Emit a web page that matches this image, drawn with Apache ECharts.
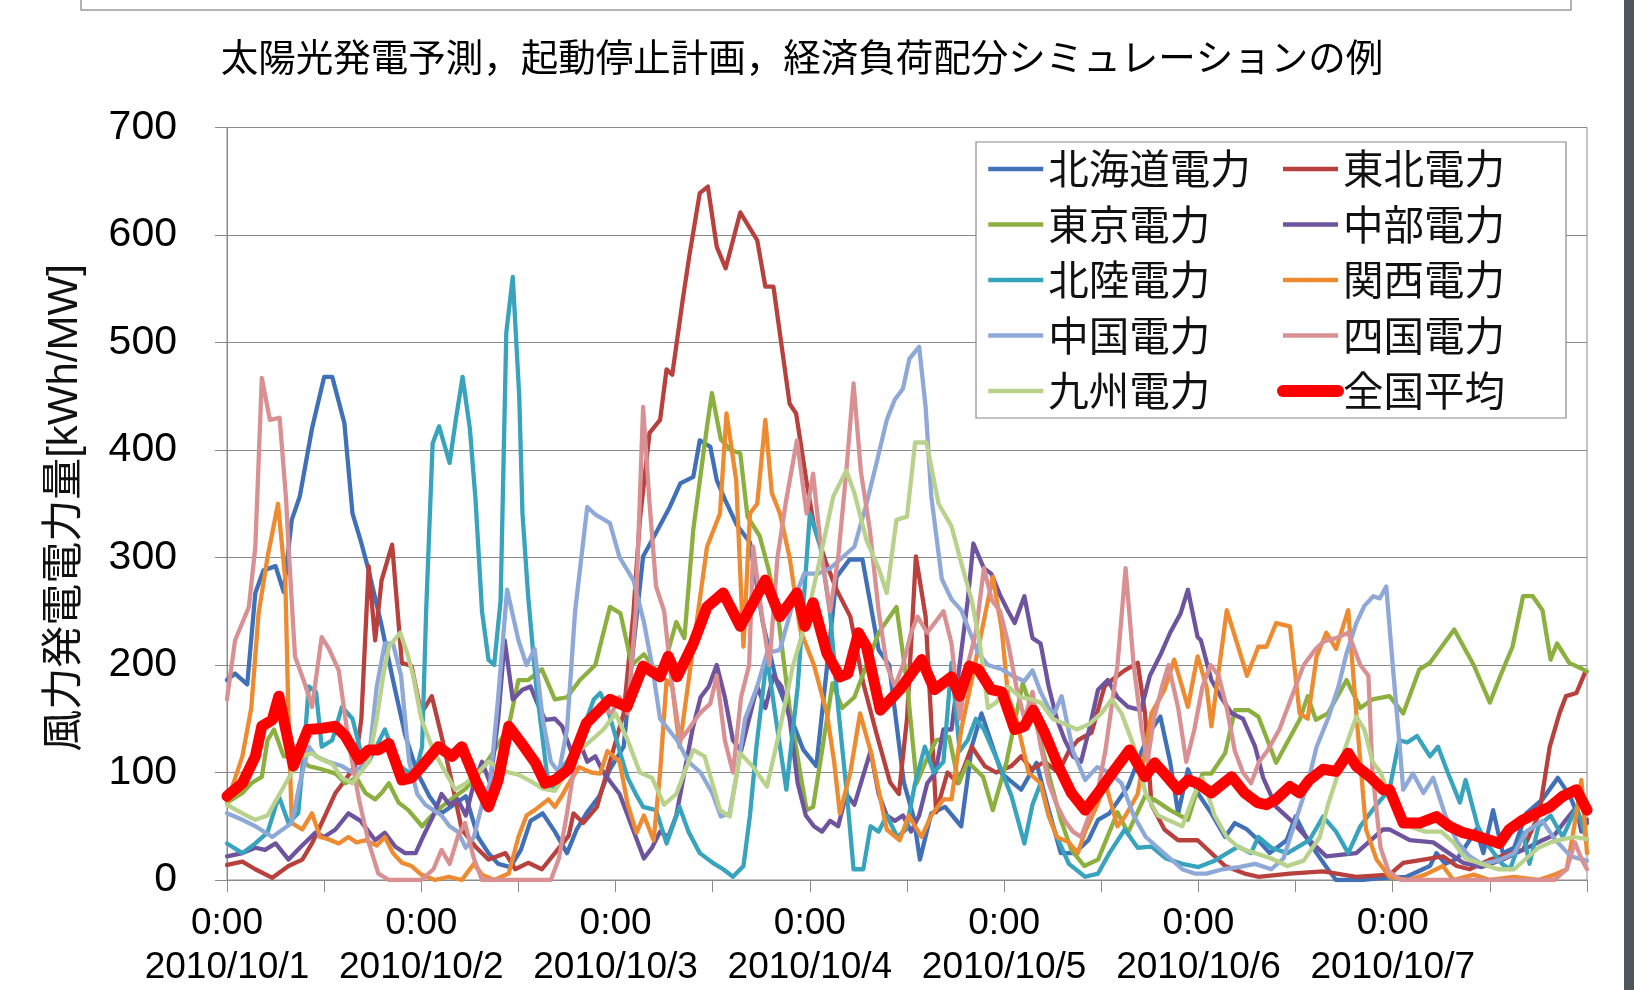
<!DOCTYPE html>
<html><head><meta charset="utf-8">
<script src="https://cdn.jsdelivr.net/npm/echarts@6/dist/echarts.min.js"></script>
<style>html,body{margin:0;padding:0;background:#fff;}#c{width:1634px;height:990px;}</style>
</head><body><div id="c"></div>
<script>
const titleText = '太陽光発電予測，起動停止計画，経済負荷配分シミュレーションの例';
const yName = '風力発電電力量[kWh/MW]';
const names = ['北海道電力','東北電力','東京電力','中部電力','北陸電力','関西電力','中国電力','四国電力','九州電力','全国平均'];
const colors = ['#4070B8','#B8413E','#8BB040','#6E549E','#38A3BC','#EE8A30','#8EA8D8','#D99092','#B8D28C','#FF0000'];
const dayLabels = ['2010/10/1','2010/10/2','2010/10/3','2010/10/4','2010/10/5','2010/10/6','2010/10/7'];
const yTicks = [0,100,200,300,400,500,600,700];

// [hour since 2010/10/1 0:00, kWh/MW]
const hokkaido = [[0,186],[1,192],[2.5,182],[3.5,267],[4.5,288],[6,292],[7,268],[8,335],[9,357],[10.5,420],[12,468],[13,468],[14.5,425],[15.5,341],[16.5,316],[17.5,288],[19,240],[20.5,186],[22,135],[23.5,100],[25,78],[26.5,62],[28,70],[29.5,78],[31,40],[32.3,25],[33.5,15],[35,12],[36.3,28],[37.5,55],[39,62],[40.5,45],[42,25],[43.2,47],[44.4,62],[46,78],[47.3,103],[49,124],[50.2,217],[51.4,301],[53,323],[54.7,347],[56,369],[57.6,375],[58.4,409],[59.7,403],[60.5,372],[61.5,354],[63,330],[64.6,314],[66.2,239],[67.9,184],[69.6,152],[71.2,121],[72.8,106],[74,190],[75.3,282],[76.9,298],[78.5,298],[80.5,214],[81.8,200],[83.6,91],[84.8,59],[85.6,19],[87,62],[88.7,68],[90.7,50],[92,124],[93.2,155],[95.7,99],[98.1,84],[100,109],[101.4,68],[103,25],[104.7,25],[106.4,37],[107.6,56],[109,62],[111.3,87],[113,120],[114.2,140],[115.3,152],[116.5,110],[117.5,62],[118.7,103],[120,80],[121.6,62],[123.3,40],[124.5,53],[126,47],[127.4,37],[128.8,25],[130.9,37],[132,59],[133.3,40],[134.6,25],[136,10],[137,0],[140,0],[143,2],[145.7,3],[148.6,13],[149.4,25],[150.5,15],[152,20],[153.5,37],[154.3,47],[155.2,25],[156.4,65],[157.6,25],[159,30],[160.5,62],[162.5,75],[164.4,95],[165.9,78],[167.1,56],[168,53]];
const tohoku = [[0,14],[1.9,17],[3.5,10],[5.6,2],[7.6,13],[9.3,19],[10.5,34],[11.7,53],[13.4,81],[14.6,93],[15.8,106],[16.6,150],[17.5,292],[18.3,223],[19.1,279],[20.4,312],[21.6,202],[22.8,199],[24,155],[25.3,171],[26.5,134],[27.8,90],[29,47],[30.7,31],[32.3,19],[34.4,25],[35.6,10],[37.2,16],[38.9,10],[40.5,25],[42.2,41],[42.8,62],[44,53],[45.7,68],[47.3,110],[49,155],[50.2,248],[51,335],[52.2,416],[53.5,428],[54.3,475],[55,470],[56.3,540],[57.1,580],[58.4,639],[59.4,645],[60.5,589],[61.6,569],[63.4,621],[65.5,595],[66.5,552],[67.5,552],[69.5,443],[70.3,434],[71.6,370],[72.5,330],[74,295],[75.3,270],[77,245],[78.6,183],[80.2,137],[81.9,91],[83,80],[84,150],[85.1,301],[86.3,245],[87.6,63],[89,100],[90.3,90],[92,124],[93.6,106],[95,100],[96.9,106],[98.1,115],[99.4,103],[101,110],[102.7,100],[104,120],[105.1,130],[106.8,137],[108.4,180],[109.3,186],[110.9,195],[112.5,202],[113.4,155],[114.2,70],[115.8,47],[117.5,37],[119.9,37],[121.6,25],[123.3,13],[125.7,6],[127.4,3],[131.3,6],[135.4,8],[139.5,3],[143.6,5],[145.3,16],[147.8,19],[150.2,22],[151.9,13],[153.5,10],[156,19],[160.1,28],[162.1,62],[163.4,124],[164.6,155],[165.4,171],[166.7,174],[167.7,192]];
const tokyo = [[0,72],[1.9,81],[3,90],[4.3,96],[5,130],[5.8,140],[7,115],[8.8,115],[10.1,106],[11.7,103],[13.4,99],[14.6,90],[16,95],[17.1,81],[18.3,75],[19.1,81],[20,90],[21.2,72],[22.4,65],[24.1,50],[25.3,60],[26.5,68],[28.2,78],[29.5,85],[31.5,103],[33,120],[34.8,143],[36,186],[37.2,186],[38.9,196],[40.5,168],[42,170],[43.6,186],[45.5,200],[47.3,254],[48.6,248],[50,200],[51.5,210],[53,195],[54,200],[55.5,240],[56.5,225],[57.6,326],[59.3,422],[59.9,453],[61,410],[62.2,400],[63.4,397],[64.3,338],[65.8,320],[66.9,289],[68,250],[69.5,160],[70.8,100],[71.6,65],[72.4,68],[73.5,120],[74.8,183],[76,160],[77.5,170],[79,200],[80.5,230],[82.7,254],[84,183],[85.2,90],[86.3,110],[87.6,130],[89.2,133],[90.4,90],[91.5,110],[93.4,96],[94.6,65],[96.3,110],[98.3,183],[99.8,150],[101.8,90],[103,56],[104.3,28],[105.9,13],[107.6,19],[110,63],[111.3,44],[113.4,78],[114.5,75],[116.5,65],[118.7,56],[120.5,99],[121.6,99],[123.3,118],[124.5,158],[126.2,158],[127.4,152],[129.6,109],[132.5,149],[133.5,171],[134.5,149],[136,155],[138.3,186],[140,160],[141.5,168],[143.6,171],[145.3,155],[147.3,196],[148.6,202],[151.6,233],[154,200],[156,165],[157.3,190],[158.8,217],[160.1,264],[161.3,264],[162.5,251],[163.5,205],[164.3,220],[165.8,202],[167.5,196],[168,194]];
const chubu = [[0,22],[1.9,25],[3.5,30],[4.7,28],[6,34],[7.6,19],[9,30],[10.9,44],[12,40],[13.4,47],[15,62],[16.5,55],[18.3,37],[19.5,44],[20.8,31],[22,25],[23.3,25],[24.2,40],[25.5,60],[26.5,80],[27.5,70],[28.5,75],[29.5,60],[30.5,90],[31.5,110],[32.5,90],[33.5,150],[34.3,223],[35.3,168],[36.5,177],[37.5,180],[38.3,165],[39.3,149],[40.5,150],[41.4,143],[42.5,120],[43.5,130],[44.5,110],[45.5,115],[46.5,100],[47.5,90],[48.5,80],[49.5,60],[50.5,40],[51.5,20],[52.5,30],[53.5,45],[54.5,40],[55.5,60],[56.5,100],[57.5,140],[58.5,170],[59.5,180],[60.5,200],[61.5,170],[62.5,130],[63.5,120],[64.5,150],[65.5,180],[66.5,160],[67.5,190],[68.5,180],[69.5,150],[70.5,90],[71.5,60],[72.5,50],[73.5,45],[74.5,55],[75.5,50],[76.5,80],[77.5,70],[78.5,95],[79.5,120],[80.5,80],[81.5,60],[82.5,55],[83.5,60],[84.5,45],[85.5,60],[86.5,90],[87.5,100],[88.5,140],[89.5,140],[90.5,200],[91.5,260],[92.2,313],[93.5,290],[94.4,285],[95.5,265],[96.5,250],[97.3,239],[98.5,264],[99.5,225],[100.5,220],[101.5,180],[102.5,150],[103.5,130],[104.5,115],[105.5,110],[106.5,140],[107.6,177],[108.8,186],[110,170],[111.3,161],[112.9,158],[114,190],[115.4,211],[116.5,230],[117.8,248],[118.7,270],[119.9,226],[120.3,223],[121.6,186],[122.8,170],[124.1,155],[125.5,150],[127,124],[128,95],[129.6,68],[131.5,55],[133.3,40],[135.8,22],[139.5,25],[141,35],[142.8,47],[143.6,47],[146.1,37],[149,35],[152.7,16],[155,12],[157.6,19],[160.9,31],[162.5,37],[164,42],[165.4,56],[166.7,68],[167.3,45],[168,56]];
const hokuriku = [[0,34],[1.9,25],[3.5,34],[5,44],[6.4,78],[7.6,53],[8.8,62],[9.6,130],[10.1,180],[11,175],[11.7,124],[13,130],[14.2,161],[15.5,150],[16.5,120],[17.5,110],[18.5,125],[19.5,140],[20.5,120],[21.5,105],[22.5,100],[23.3,100],[24.1,124],[24.6,250],[25.4,406],[26.2,422],[27.5,388],[28.3,430],[29.1,468],[30,420],[30.7,354],[31.5,250],[32.3,205],[33,200],[33.8,260],[34.5,509],[35.3,561],[36.1,450],[36.5,341],[37.2,264],[38.2,180],[39.5,100],[40.1,84],[41,100],[42,110],[43.5,130],[45.3,168],[46.1,174],[47,160],[48.5,120],[49.5,95],[50.5,80],[51.4,68],[53,65],[54.3,34],[55.9,68],[57,45],[58.4,25],[60,16],[61.3,10],[62.5,3],[63.8,13],[64.6,60],[65.4,124],[66.7,208],[67.8,150],[69.1,84],[70.5,180],[72,341],[73.3,310],[74.5,248],[75.5,160],[76.6,78],[77.4,10],[78.6,10],[79.5,50],[80.5,45],[81.5,60],[82.8,40],[83.9,47],[85,90],[86.2,124],[87.3,100],[88.5,110],[89.5,202],[90.5,120],[91.5,130],[92.5,150],[93.5,140],[95.3,109],[96.9,78],[98.5,34],[99.5,70],[100.5,90],[101.5,60],[102.7,37],[104,15],[106,3],[107.6,6],[109,25],[110.9,47],[112.5,30],[114.2,31],[116,20],[118,15],[120,12],[122,18],[124.9,31],[126.5,25],[127.4,40],[129,30],[131,25],[133.7,37],[135.4,59],[137,45],[138.5,25],[140,50],[142,70],[143.6,84],[144.8,130],[145.8,128],[147,134],[148.6,115],[149.6,124],[150.8,100],[152.3,72],[153,93],[154.5,50],[155.9,31],[157.5,15],[158.5,10],[160.1,44],[160.9,15],[162,50],[163.5,60],[165,40],[166.7,68],[168,37]];
const kansai = [[0,72],[1.9,115],[3,160],[3.9,248],[5,300],[6.3,350],[7.2,279],[7.6,150],[8,53],[9.3,47],[10.5,62],[11.5,40],[12.5,38],[13.8,34],[15,40],[16,35],[17.1,37],[18.5,32],[19.5,40],[20.5,25],[21.6,16],[22.8,13],[24,5],[25.7,0],[27.4,3],[29,0],[30.5,15],[31.5,5],[33,0],[34.8,6],[36,40],[37,60],[38,65],[39.7,75],[40.5,68],[41.5,80],[42,87],[43.5,105],[45,100],[46.1,99],[47,120],[48.5,110],[49.5,70],[50.6,44],[51.5,60],[52.7,37],[53.5,100],[54.3,186],[55,180],[55.9,124],[57.6,217],[59.3,310],[60.9,341],[61.7,434],[62.9,372],[63.8,217],[64.6,341],[65.5,350],[66.5,428],[67.3,360],[68.3,341],[69.5,300],[70.8,233],[72.5,200],[74.1,155],[75,110],[75.7,62],[77,100],[78.2,155],[79.5,120],[81.5,47],[83.1,37],[84.2,60],[85.8,40],[87,60],[88.5,75],[89.5,75],[90.7,140],[92,186],[93.6,245],[94.6,282],[95.7,233],[96.5,170],[97.5,150],[99,100],[100.5,90],[101.5,60],[102.5,40],[104,35],[105.1,25],[106,45],[107.5,70],[108.5,90],[110,50],[111,60],[112.5,80],[113.4,120],[114.2,155],[115.8,177],[117,205],[118.7,161],[119.9,208],[121,180],[121.6,143],[123.5,251],[124.9,217],[126,190],[127.4,217],[128.4,217],[129.6,239],[131.3,236],[132.5,155],[133.5,150],[134.6,208],[135.8,230],[137,215],[138.5,251],[139.5,155],[140.7,47],[142,19],[143.6,3],[146,0],[148,5],[150.2,13],[151.5,0],[154,5],[156,0],[159,3],[162,0],[164,5],[165.5,10],[166.7,62],[167.3,93],[168,25]];
const chugoku = [[0,62],[1.9,56],[3.5,50],[5.6,40],[6.5,45],[8,53],[9,90],[10.1,124],[11,115],[12.5,110],[14.2,106],[15.5,100],[16.5,105],[17.5,110],[18.5,180],[19.5,220],[20.5,220],[21.5,190],[22.5,110],[23.5,80],[24.5,70],[25.5,65],[26.5,60],[27.5,50],[28.5,45],[29.5,30],[30.5,40],[31.5,70],[32.5,90],[33.5,170],[34.6,270],[36,223],[37,200],[38,215],[39,150],[40,110],[41,100],[42,140],[43,250],[44.5,347],[45.5,340],[47.3,332],[48.5,300],[50.2,279],[51.5,240],[52.5,200],[53.5,150],[55.6,130],[57,110],[58.5,100],[60,80],[61,59],[62.1,62],[63,100],[64,150],[65.5,180],[66.7,211],[68.3,214],[70,260],[71.3,285],[73,285],[74.5,290],[76,300],[77.5,310],[79,350],[80.3,390],[81.5,428],[82.5,447],[83.5,457],[84.3,485],[85.5,496],[86.3,440],[87,357],[88.3,280],[89.5,261],[90.7,251],[92.8,211],[94,200],[95.7,196],[97,190],[98.5,185],[99.5,195],[100.5,175],[101.5,160],[102.2,155],[103.1,171],[104.5,120],[106,93],[107.5,105],[109,100],[110.5,90],[112,60],[113.5,40],[115,30],[116.5,20],[118,10],[119.5,6],[121,6],[123,10],[125,12],[127,15],[129,10],[130.5,20],[132,55],[133.5,90],[134.6,124],[136,150],[137.3,180],[138.3,211],[139.5,239],[140.5,255],[141.6,264],[142.4,262],[143.2,273],[144,200],[144.8,130],[145.3,84],[146.5,99],[147.8,81],[149,95],[150.5,60],[152,35],[153.5,22],[155,15],[157,18],[159,25],[160.5,45],[162.5,55],[164,38],[166,22],[168,18]];
const shikoku = [[0,168],[1,223],[2.7,254],[3.5,310],[4.3,467],[5.3,428],[6.5,430],[7.3,354],[7.6,310],[8.4,208],[9.5,185],[10.5,161],[11.7,226],[12.6,215],[13.8,195],[15,130],[16.3,75],[17.5,35],[18.7,6],[20,0],[22,0],[24,0],[25.5,10],[26.5,28],[27.5,15],[28.5,40],[29.4,53],[30.5,20],[31.5,0],[34,0],[37,0],[40,0],[41,20],[42,62],[43,110],[44.5,150],[46,160],[47.5,155],[48.5,170],[49.5,155],[50.5,250],[51.4,440],[52.2,350],[53,273],[54,250],[55,180],[56,130],[57,140],[58.4,155],[59.7,164],[60.5,190],[61.5,130],[62.5,100],[63.5,170],[64.5,200],[65,310],[66,250],[67,200],[68,300],[69,350],[70.4,409],[71.6,341],[72.4,378],[73.5,300],[74.5,250],[75.5,300],[76.5,380],[77.4,462],[78.3,380],[79.4,326],[80.5,250],[81.5,200],[82.5,180],[83.5,200],[84.5,230],[85.3,245],[86.5,230],[87.5,240],[88.5,250],[89.5,220],[90.5,150],[91.5,200],[92.5,230],[93.5,290],[94.5,260],[95.5,250],[96.5,220],[97.5,180],[98.5,150],[99.5,175],[100.5,125],[101.5,90],[102.5,70],[103.5,55],[104.5,45],[105.5,40],[106.5,60],[107.5,80],[108.5,120],[110,200],[111,290],[112,200],[113,140],[113.7,110],[114.5,150],[115.5,180],[116.3,200],[117.5,160],[118.5,110],[119.5,140],[120.5,180],[121.5,200],[122.5,190],[123.5,160],[124.5,120],[125.5,100],[126.5,90],[127.5,110],[128.5,120],[130,140],[131.5,170],[133,200],[134.5,215],[135.5,222],[137,225],[138.5,230],[139,220],[140,200],[141,190],[141.5,100],[142.5,30],[143.5,8],[145,0],[150,0],[155,0],[160,0],[164,0],[165.5,10],[166.5,35],[167.3,20],[168,10]];
const kyushu = [[0,70],[1.9,62],[3.5,56],[5,60],[6.5,80],[8,100],[9.3,115],[10.5,118],[11.7,112],[13,108],[14.2,95],[15.5,90],[16.5,100],[17.5,110],[18.5,150],[19.3,190],[20,217],[21.4,230],[22.3,210],[23,190],[24,150],[25.5,120],[27,100],[28.2,84],[29.5,90],[31,100],[32.3,110],[33.5,105],[34.8,100],[36,98],[37.5,92],[39,85],[40.5,83],[42,100],[43.5,120],[45,130],[46.5,140],[48,155],[49.5,130],[51,100],[52.5,95],[54,70],[55.5,80],[56.5,100],[57.6,121],[59,115],[60.9,65],[62.1,59],[63.4,118],[65,105],[66.7,87],[68,130],[69.9,199],[71.5,240],[73,290],[74.9,357],[76.5,381],[77.5,360],[79,316],[80.5,290],[81.5,267],[82.7,335],[84,338],[85,407],[86.4,407],[87.9,350],[89.5,329],[90.7,295],[92,260],[93,220],[94,160],[95,165],[96.5,180],[98,170],[99.4,168],[100.5,165],[102,150],[103.5,145],[105,140],[106.5,145],[108,155],[109.3,168],[110.5,155],[112,125],[113.5,80],[115,60],[116.5,55],[118,50],[119.5,80],[120.5,95],[122,60],[123.5,40],[125,30],[127,25],[129,20],[131,13],[133,18],[135,40],[136,70],[137,93],[138,120],[139.5,152],[140.5,140],[141.5,110],[142.5,100],[144,70],[146,50],[148,45],[150,45],[151.5,35],[153,20],[155,15],[157,10],[159,10],[160.5,20],[162,30],[163.5,35],[165,38],[166.5,40],[168,38]];
const average = [[0,78],[1.9,90],[3.5,115],[4.3,143],[5.6,149],[6.4,171],[8.2,106],[10,140],[11.7,141],[13.4,143],[14.6,134],[16.3,112],[17.5,121],[18.7,121],[20,127],[21.6,93],[22.8,95],[24.1,106],[26.1,124],[27.8,115],[29,124],[30.7,93],[32.3,68],[33.5,93],[34.8,143],[36.4,127],[38.1,109],[39.3,90],[40.5,93],[42.2,103],[44.4,146],[47.3,168],[49.4,161],[51.4,199],[53.5,189],[54.5,208],[55.6,189],[57.6,220],[59.3,254],[61.3,267],[63.4,236],[65,258],[66.5,279],[68.3,245],[70.4,267],[71.4,236],[72.4,258],[74.1,211],[75.7,189],[76.7,192],[78,230],[79,217],[80.7,158],[83.1,177],[85.8,205],[87.4,177],[89.5,189],[90.5,171],[91.7,199],[92.8,196],[94.4,177],[95.7,175],[97.3,140],[98.5,143],[99.6,158],[101,137],[102.7,106],[104.3,81],[106,65],[107.6,81],[109.7,103],[111.5,121],[113.4,96],[114.6,109],[115.8,99],[117.5,84],[118.7,93],[119.9,90],[121.6,81],[124.1,96],[125.7,81],[127.3,72],[128.4,70],[129.6,75],[131.3,87],[132.5,81],[133.7,93],[135.4,103],[137,101],[138.5,118],[139.5,106],[141.2,96],[142.8,84],[143.6,84],[145.3,53],[147.3,53],[149.4,59],[151,50],[152.7,44],[154.3,41],[156,37],[157.2,34],[158.4,47],[160.1,56],[161.7,62],[163.4,68],[165,78],[166.7,84],[168,65]];

const seriesData = [hokkaido,tohoku,tokyo,chubu,hokuriku,kansai,chugoku,shikoku,kyushu,average];
const FONT = "'Liberation Sans','Noto Sans CJK JP',sans-serif";
const JFONT = "'Noto Sans CJK JP',sans-serif";

function legendItem(i){
  const isAvg = i===names.length-1;
  return {name:names[i], itemStyle:{opacity:0},
    lineStyle:{width: isAvg?12:4.5, color:colors[i], cap: isAvg?'round':'butt', opacity:1}};
}

const chart = echarts.init(document.getElementById('c'), null, {renderer:'canvas'});
const legendCommon = {
  orient:'vertical', top:147, itemWidth:55, itemHeight:14, itemGap:11.5, padding:0, z:10,
  textStyle:{fontSize:40.5, lineHeight:44, fontFamily:JFONT, color:'#111'}
};
chart.setOption({
  animation:false,
  backgroundColor:'#fff',
  grid:{left:227, right:47, top:127.5, bottom:109.5, show:true, borderColor:'#8a8a8a', borderWidth:1},
  xAxis:{type:'value', min:0, max:168, interval:12,
    axisLine:{show:true, lineStyle:{color:'#8a8a8a', width:1}},
    axisTick:{show:true, length:12, lineStyle:{color:'#8a8a8a'}},
    splitLine:{show:false},
    axisLabel:{margin:22, fontSize:37, lineHeight:44, fontFamily:FONT, color:'#000',
      formatter:function(v){ const d=v/24; return (v%24===0 && d<dayLabels.length) ? '0:00\n'+dayLabels[d] : ''; }}
  },
  yAxis:{type:'value', min:yTicks[0], max:yTicks[yTicks.length-1], interval:100,
    axisLine:{show:true, lineStyle:{color:'#8a8a8a', width:1}},
    axisTick:{show:true, length:12, lineStyle:{color:'#8a8a8a'}},
    splitLine:{show:true, lineStyle:{color:'#8a8a8a', width:1}},
    axisLabel:{margin:50, fontSize:41, fontFamily:FONT, color:'#000'}
  },
  legend:[
    Object.assign({left:986, data:[0,2,4,6,8].map(legendItem)}, legendCommon),
    Object.assign({left:1277, data:[1,3,5,7,9].map(legendItem)}, legendCommon)
  ],
  graphic:[
    {type:'rect', z:100, shape:{x:81, y:-4, width:1490, height:14}, style:{fill:'#fff', stroke:'#9a9a9a', lineWidth:1.5}},
    {type:'rect', z:100, shape:{x:1624, y:0, width:10, height:990}, style:{fill:'#4b575d'}},
    {type:'text', z:100, x:802, y:57, style:{text:titleText, font:"37.5px 'Noto Sans CJK JP'", fill:'#000', textAlign:'center', textVerticalAlign:'middle'}},
    {type:'text', z:100, x:65, y:508, rotation:Math.PI/2, style:{text:yName, font:"42px 'Liberation Sans','Noto Sans CJK JP'", fill:'#111', textAlign:'center', textVerticalAlign:'middle'}},
    {type:'rect', z:3, shape:{x:976, y:142, width:590, height:276}, style:{fill:'#fff', stroke:'#8a8a8a', lineWidth:1.2}}
  ],
  series: names.map(function(n,i){
    const isAvg = i===names.length-1;
    return {name:n, type:'line', data:seriesData[i], showSymbol:false, symbol:'none', z: isAvg?2.5:2,
      lineStyle:{width: isAvg?11:4.3, color:colors[i], cap:'round', join:'round'},
      itemStyle:{color:colors[i]}, emphasis:{disabled:true}};
  })
});
</script></body></html>
